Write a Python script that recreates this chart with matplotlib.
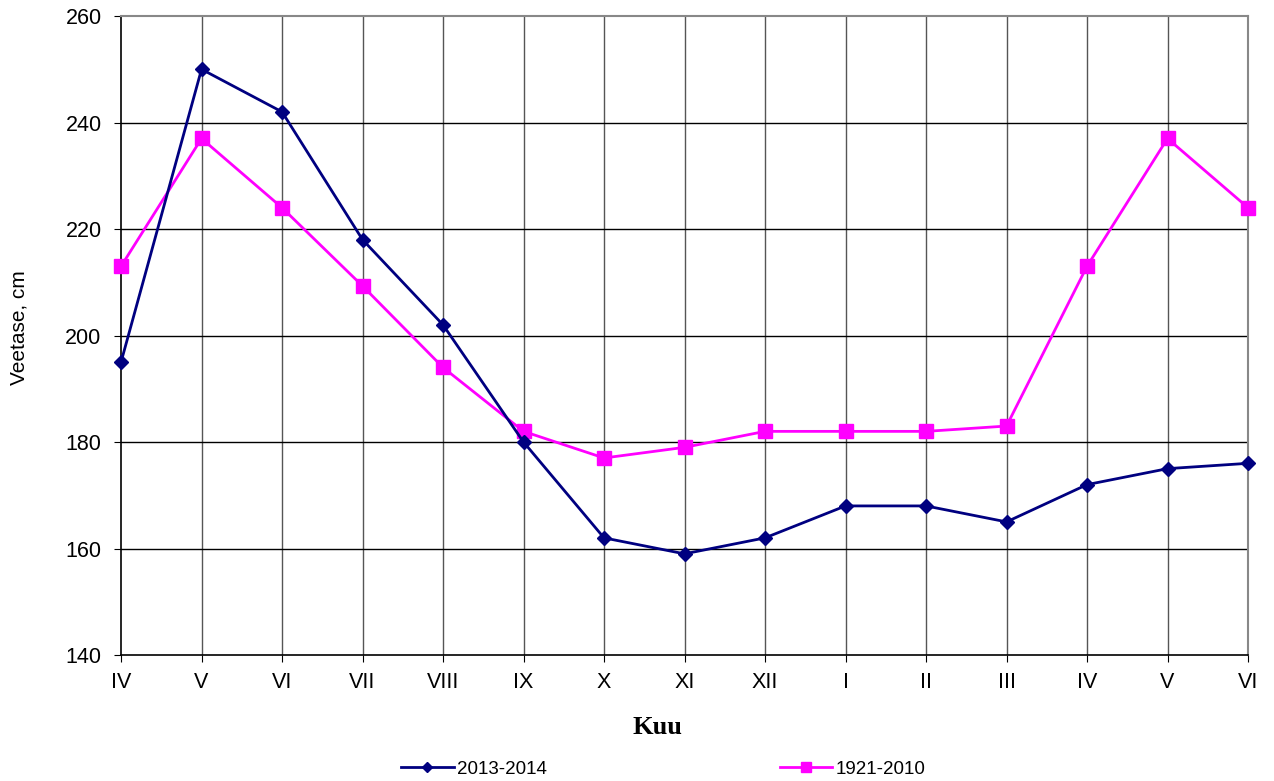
import matplotlib
matplotlib.use("Agg")
import matplotlib.pyplot as plt

months = ["IV", "V", "VI", "VII", "VIII", "IX", "X", "XI", "XII",
          "I", "II", "III", "IV", "V", "VI"]
level_2013_2014 = [195, 250, 242, 218, 202, 180, 162, 159, 162,
                   168, 168, 165, 172, 175, 176]
level_1921_2010 = [213, 237, 224, 209.3, 194, 182, 177, 179, 182,
                   182, 182, 183, 213, 237, 224]

plt.rcParams['font.family'] = ['Liberation Sans', 'DejaVu Sans']

fig = plt.figure(figsize=(12.74, 7.81), dpi=100)
ax = fig.add_axes([0.095, 0.1613, 0.8846, 0.8182])

x = list(range(len(months)))
ax.plot(x, level_2013_2014, color='#000080', lw=2, marker='D', markersize=7,
        label='2013-2014', zorder=4, clip_on=False)
ax.plot(x, level_1921_2010, color='#ff00ff', lw=2, marker='s', markersize=10,
        label='1921-2010', zorder=3, clip_on=False)

ax.set_xlim(0, len(months) - 1)
ax.set_ylim(140, 260)
ax.set_xticks(x)
ax.set_xticklabels(months)
ax.set_yticks(range(140, 261, 20))
ax.tick_params(labelsize=15.5, direction='out', length=5, color='black')
ax.tick_params(axis='x', pad=7)
ax.tick_params(axis='y', pad=9)

# grid: vertical grey, horizontal black
for xi in x[1:-1]:
    ax.axvline(xi, color='#555555', lw=1, zorder=1)
for yi in range(160, 260, 20):
    ax.axhline(yi, color='black', lw=1, zorder=1)

ax.spines['left'].set_color('black')
ax.spines['bottom'].set_color('black')
ax.spines['left'].set_linewidth(1.2)
ax.spines['bottom'].set_linewidth(1.2)
ax.spines['top'].set_color('#888888')
ax.spines['right'].set_color('#888888')
ax.spines['top'].set_linewidth(1.5)
ax.spines['right'].set_linewidth(1.5)

fig.text(19 / 1274, 1 - 328 / 781, 'Veetase, cm', fontsize=15,
         rotation=90, ha='center', va='center')
fig.text(657 / 1274, 1 - 727 / 781, 'Kuu', fontsize=19, fontweight='bold',
         family='Liberation Serif', ha='center', va='center')

fig.legend(loc='center', bbox_to_anchor=(0.5208, 0.0154), ncol=2, frameon=False,
           fontsize=13.5, columnspacing=12.4, handlelength=2.8, handletextpad=0.2,
           markerscale=0.75)

fig.savefig('out.png', dpi=100)
